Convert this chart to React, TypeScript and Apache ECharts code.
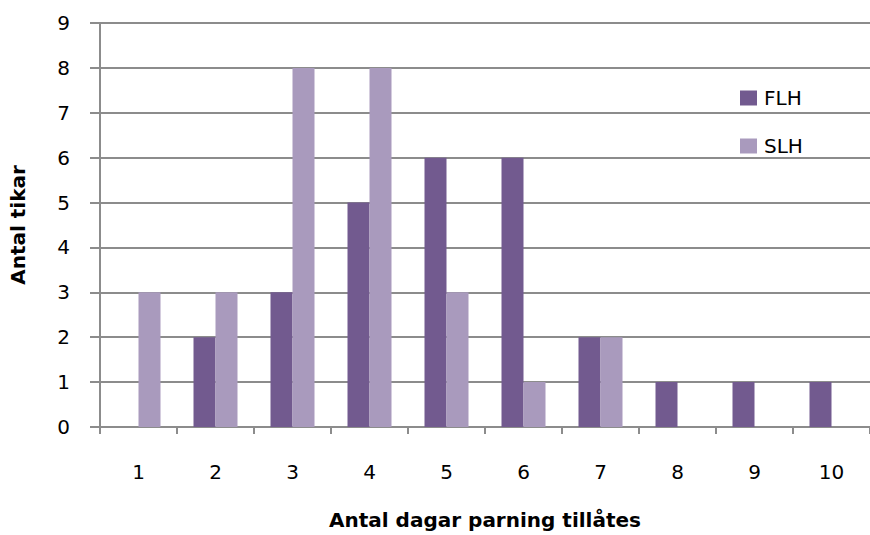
import React, { useEffect, useRef } from "react";
import * as echarts from "echarts";

const categories = ["1", "2", "3", "4", "5", "6", "7", "8", "9", "10"];
const flh = [0, 2, 3, 5, 6, 6, 2, 1, 1, 1];
const slh = [3, 3, 8, 8, 3, 1, 2, 0, 0, 0];
const seriesNames = ["FLH", "SLH"];
const xName = "Antal dagar parning tillåtes";
const yName = "Antal tikar";

export default function App() {
  const ref = useRef<HTMLDivElement>(null);
  useEffect(() => {
    if (!ref.current) return;
    const chart = echarts.init(ref.current, null, { renderer: "svg" });
    const font = "'DejaVu Sans', 'Open Sans', sans-serif";
    chart.setOption({
      animation: false,
      backgroundColor: "#ffffff",
      textStyle: { fontFamily: font },
      grid: { left: 100, right: 0, top: 23, bottom: 108 },
      legend: {
        orient: "vertical",
        left: 735,
        top: 83,
        itemWidth: 17,
        itemHeight: 15,
        itemGap: 28,
        icon: "rect",
        textStyle: { fontSize: 20, color: "#000", fontFamily: font, padding: [0, 0, 0, 2] },
        data: seriesNames,
      },
      xAxis: {
        type: "category",
        data: categories,
        name: xName,
        nameLocation: "middle",
        nameGap: 83,
        nameTextStyle: { fontSize: 20, fontWeight: "bold", color: "#000", fontFamily: font },
        axisLine: { lineStyle: { color: "#8c8c8c", width: 2 } },
        axisTick: { show: true, length: 7, lineStyle: { color: "#8c8c8c", width: 2 } },
        axisLabel: { fontSize: 20, color: "#000", margin: 35, fontFamily: font },
        splitLine: { show: false },
      },
      yAxis: {
        type: "value",
        min: 0,
        max: 9,
        interval: 1,
        name: yName,
        nameLocation: "middle",
        nameGap: 72,
        nameTextStyle: { fontSize: 20, fontWeight: "bold", color: "#000", fontFamily: font },
        axisLine: { show: true, lineStyle: { color: "#8c8c8c", width: 2 } },
        axisTick: { show: true, length: 10, lineStyle: { color: "#8c8c8c", width: 2 } },
        axisLabel: { fontSize: 20, color: "#000", margin: 30, fontFamily: font },
        splitLine: { show: true, lineStyle: { color: "#8c8c8c", width: 2 } },
      },
      series: [
        {
          name: seriesNames[0],
          type: "bar",
          data: flh,
          barWidth: 22,
          barGap: "0%",
          itemStyle: { color: "#725a8f" },
        },
        {
          name: seriesNames[1],
          type: "bar",
          data: slh,
          barWidth: 22,
          barGap: "0%",
          itemStyle: { color: "#a99abd" },
        },
      ],
    });
    return () => chart.dispose();
  }, []);
  return (
    <div
      ref={ref}
      style={{ position: "fixed", left: 0, top: 0, width: 870, height: 535 }}
    />
  );
}
